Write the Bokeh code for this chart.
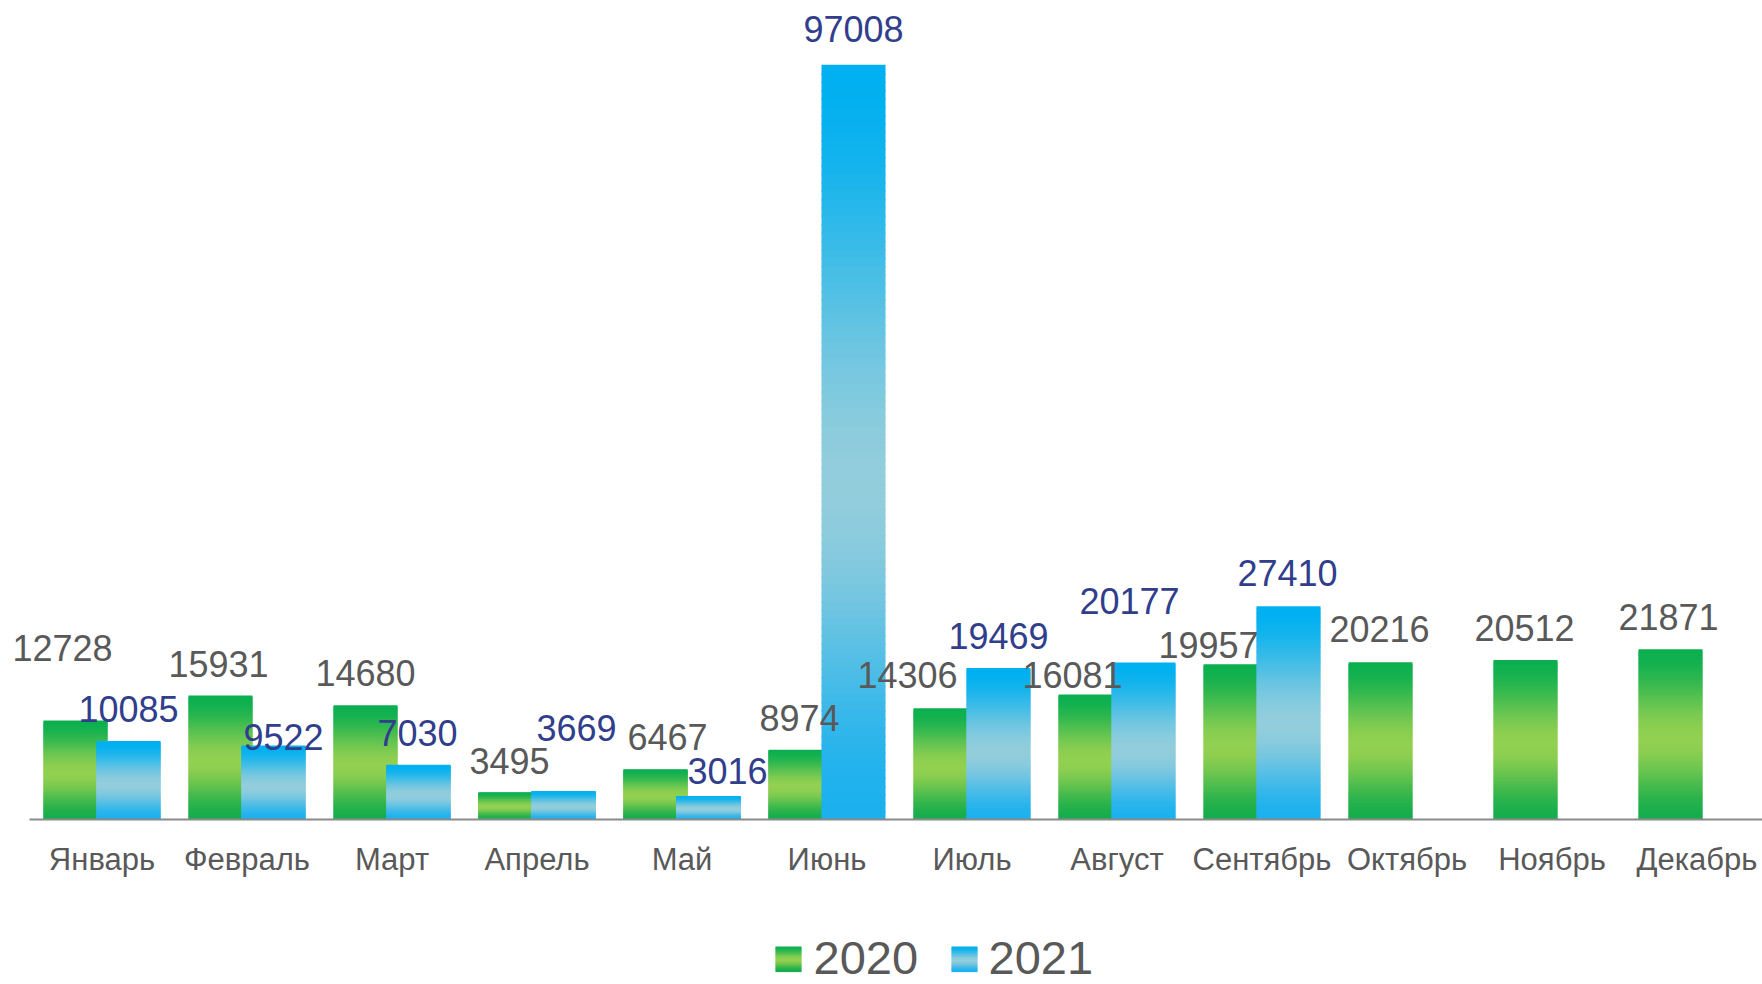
import numpy as np
from bokeh.plotting import figure
from bokeh.models import Range1d, ColumnDataSource
from bokeh.embed import file_html
from bokeh.resources import INLINE
from bokeh.core.properties import value

# ---------------- data ----------------
months = ["Январь", "Февраль", "Март", "Апрель", "Май", "Июнь", "Июль",
          "Август", "Сентябрь", "Октябрь", "Ноябрь", "Декабрь"]
series_names = ["2020", "2021"]
values_2020 = [12728, 15931, 14680, 3495, 6467, 8974, 14306, 16081, 19957, 20216, 20512, 21871]
values_2021 = [10085, 9522, 7030, 3669, 3016, 97008, 19469, 20177, 27410]

# ---------------- styling (label nudges in screen px) ----------------
label_dx_2020 = [-13, -2, 0, -1, 12, -1, -38, -18, -27, -1, -1, -2]
label_dy_2020 = [-72, -32, -32, -31, -32, -32, -33, -19, -19, -33, -32, -32]
label_dx_2021 = [0, 10, -1, 13, 19, 0, 0, -14, -1]
label_dy_2021 = [-32, -8, -32, -63, -25, -36, -32, -62, -33]

GREEN_STOPS = [(0.0, "#0CAF4F"), (0.53, "#92D050"), (1.0, "#16AD4C")]
BLUE_STOPS = [(0.0, "#00B0F0"), (0.56, "#92CDDC"), (1.0, "#1CB1EE")]
GRAY_TEXT = "#595959"
NAVY_TEXT = "#303E8C"
AXIS_COLOR = "#8A8A8A"
FONT = "Liberation Sans"

W, H = 1762, 984
CAT_PX = 145.0          # width of one month slot
LEFT_PX = 29.0          # canvas x of first slot's left edge
BASE_PX = 819.0         # canvas y of the zero line
PX_PER_UNIT = 0.00778   # vertical scale
BAR_PX = 64.0
SHIFT_PX = 26.5         # half distance between the two series' bar centres
N_SLICES = 90

x0 = -LEFT_PX / CAT_PX
x_range = Range1d(x0, x0 + W / CAT_PX)
y_range = Range1d(-(H - BASE_PX) / PX_PER_UNIT, BASE_PX / PX_PER_UNIT)


def hex2rgb(h):
    h = h.lstrip("#")
    return np.array([int(h[i:i + 2], 16) for i in (0, 2, 4)], dtype=float)


def grad_color(stops, t):
    for (p0, c0), (p1, c1) in zip(stops[:-1], stops[1:]):
        if p0 <= t <= p1:
            u = (t - p0) / (p1 - p0)
            u = u * u * (3 - 2 * u)
            c = hex2rgb(c0) * (1 - u) + hex2rgb(c1) * u
            return "#%02x%02x%02x" % tuple(int(round(v)) for v in c)
    return stops[-1][1]


def slices(centers, heights, width, stops):
    left, right, top, bottom, color = [], [], [], [], []
    overlap = 1.5 / PX_PER_UNIT
    for cx, v in zip(centers, heights):
        for i in range(N_SLICES):
            t0 = i / N_SLICES
            t1 = (i + 1) / N_SLICES
            left.append(cx - width / 2)
            right.append(cx + width / 2)
            top.append(v * (1 - t0))
            bottom.append(max(0.0, v * (1 - t1) - overlap))
            color.append(grad_color(stops, (t0 + t1) / 2))
    return dict(left=left, right=right, top=top, bottom=bottom, color=color)


p = figure(width=W, height=H, x_range=x_range, y_range=y_range,
           output_backend="svg", toolbar_location=None,
           x_axis_location=None, y_axis_location=None,
           min_border=0, min_border_left=0, min_border_right=0,
           min_border_top=0, min_border_bottom=0)
p.grid.visible = False
p.outline_line_color = None
p.background_fill_color = "white"
p.border_fill_color = "white"

bar_w = BAR_PX / CAT_PX
off = SHIFT_PX / CAT_PX
cx_2020 = [i + 0.5 - off for i in range(len(values_2020))]
cx_2021 = [i + 0.5 + off for i in range(len(values_2021))]

src_g = ColumnDataSource(slices(cx_2020, values_2020, bar_w, GREEN_STOPS))
src_b = ColumnDataSource(slices(cx_2021, values_2021, bar_w, BLUE_STOPS))
p.quad(left="left", right="right", top="top", bottom="bottom",
       fill_color="color", line_color=None, source=src_g)
p.quad(left="left", right="right", top="top", bottom="bottom",
       fill_color="color", line_color=None, source=src_b)

# zero line
p.segment(x0=[0], y0=[0], x1=[len(months)], y1=[0],
          line_color=AXIS_COLOR, line_width=2)

# category labels
p.text(x=[i + 0.5 for i in range(len(months))], y=[0] * len(months), text=months,
       y_offset=40, text_align="center", text_baseline="middle",
       text_font=value(FONT), text_font_size="31px", text_color=GRAY_TEXT)

# value labels
p.text(x=cx_2020, y=values_2020, text=[str(v) for v in values_2020],
       x_offset=label_dx_2020, y_offset=label_dy_2020,
       text_align="center", text_baseline="middle",
       text_font=value(FONT), text_font_size="36px", text_color=GRAY_TEXT)
p.text(x=cx_2021, y=values_2021, text=[str(v) for v in values_2021],
       x_offset=label_dx_2021, y_offset=label_dy_2021,
       text_align="center", text_baseline="middle",
       text_font=value(FONT), text_font_size="36px", text_color=NAVY_TEXT)


# legend (placed in canvas pixels, converted to data units)
def px_x(fx):
    return x0 + fx / CAT_PX


def px_y(fy):
    return (BASE_PX - fy) / PX_PER_UNIT


LEG_SQ = 25.0
LEG_TOP = 946.0
LEG_TEXT_MID = 957.0
leg_items = [(775.0, 813.0, GREEN_STOPS), (951.0, 988.0, BLUE_STOPS)]
for sq_left, txt_left, stops in leg_items:
    n = 25
    L, R, T, B, C = [], [], [], [], []
    for i in range(n):
        t0, t1 = i / n, (i + 1) / n
        L.append(px_x(sq_left))
        R.append(px_x(sq_left + LEG_SQ + 1))
        T.append(px_y(LEG_TOP + t0 * LEG_SQ))
        B.append(px_y(LEG_TOP + t1 * LEG_SQ + 0.6))
        C.append(grad_color(stops, (t0 + t1) / 2))
    p.quad(left=L, right=R, top=T, bottom=B, fill_color=C, line_color=None)

p.text(x=[px_x(it[1]) for it in leg_items], y=[px_y(LEG_TEXT_MID)] * 2, text=series_names,
       text_align="left", text_baseline="middle",
       text_font=value(FONT), text_font_size="47px", text_color=GRAY_TEXT)

open("out.html", "w").write(file_html(p, INLINE))
